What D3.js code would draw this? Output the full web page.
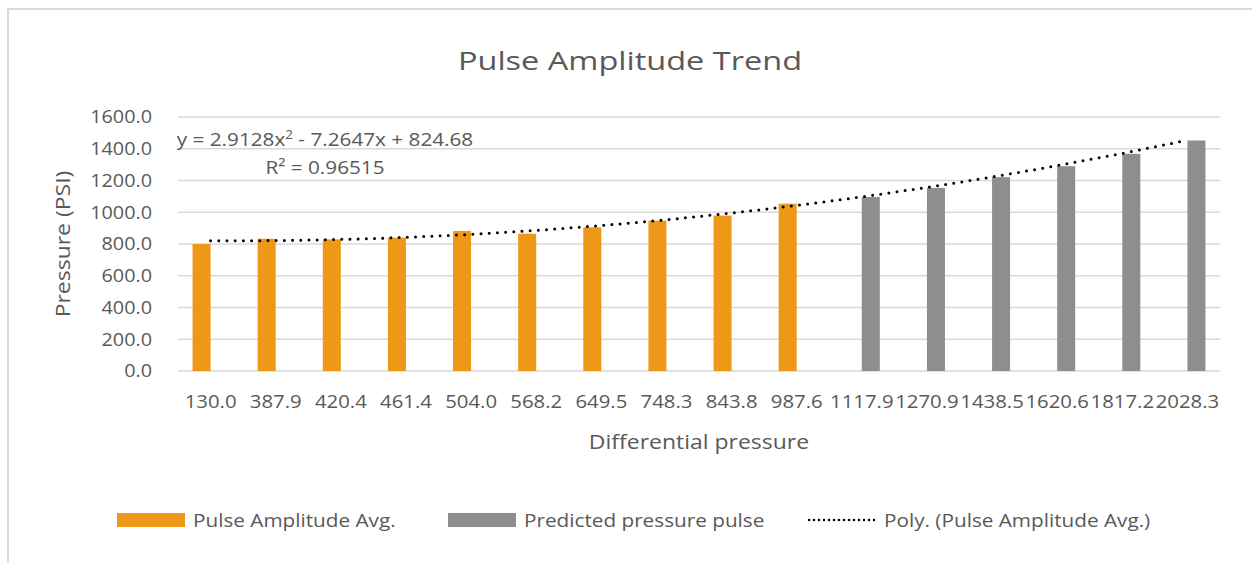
<!DOCTYPE html>
<html>
<head>
<meta charset="utf-8">
<script src="https://cdn.jsdelivr.net/npm/d3@7"></script>
<style>
  body { margin: 0; background: #fff; }
  svg { display: block; font-family: 'Open Sans', Lato, sans-serif; }
</style>
</head>
<body>
<div class="chart"></div>
<script>
// Pulse amplitude chart (Excel style clustered columns + poly trendline)
const categories = ['130.0', '387.9', '420.4', '461.4', '504.0', '568.2', '649.5', '748.3',
  '843.8', '987.6', '1117.9', '1270.9', '1438.5', '1620.6', '1817.2', '2028.3']

// measured series, null where the series has no column
const pulseAvg = [800, 833, 829, 840, 882, 865, 905, 947, 979, 1054,
  null, null, null, null, null, null]
const predicted = [null, null, null, null, null, null, null, null, null, null,
  1096, 1153, 1221, 1290, 1368, 1452]

// y = c2*x^2 + c1*x + c0 as printed on the chart
const trendCoef = [824.68, -7.2647, 2.9128]
const trendR2 = '0.96515'

const yTicks = [0, 200, 400, 600, 800, 1000, 1200, 1400, 1600]

const SERIES = [
  { key: 'avg', label: 'Pulse Amplitude Avg.', values: pulseAvg, color: '#ED9817' },
  { key: 'pred', label: 'Predicted pressure pulse', values: predicted, color: '#8E8E8E' },
]

const svgWidth = 1252
const svgHeight = 563
const margin = { top: 117, right: 32, bottom: 192, left: 178 }
const width = svgWidth - margin.left - margin.right
const height = svgHeight - margin.top - margin.bottom
const textColor = '#595959'
const fontSize = '18.5px'

// the reference text is a bit wide, stretch glyphs horizontally
function stretch(sel, k) {
  sel.each(function() {
    const len = this.getComputedTextLength()
    d3.select(this).attr('textLength', len * k).attr('lengthAdjust', 'spacingAndGlyphs')
  })
}

const svg = d3.select('.chart').append('svg')
  .attr('width', svgWidth)
  .attr('height', svgHeight)

// chart area border (runs off the picture right and bottom)
svg.append('rect')
  .attr('x', 8).attr('y', 9)
  .attr('width', svgWidth + 20).attr('height', svgHeight + 20)
  .attr('fill', 'none')
  .attr('stroke', '#D9D9D9')
  .attr('stroke-width', 2)

svg.append('text')
  .attr('x', 630)
  .attr('y', 70)
  .attr('text-anchor', 'middle')
  .attr('font-size', '25px')
  .attr('fill', textColor)
  .text('Pulse Amplitude Trend')
  .call(stretch, 1.3)

const chartGroup = svg.append('g')
  .attr('transform', `translate(${margin.left}, ${margin.top})`)

const xScale = d3.scaleBand()
  .domain(categories)
  .range([0, width])

const yScale = d3.scaleLinear()
  .domain([0, 1600])
  .range([height, 0])

const xSub = d3.scaleBand()
  .domain(SERIES.map(s => s.key))
  .range([xScale.bandwidth() * 0.2235, xScale.bandwidth() * 0.7765])

// gridlines
chartGroup.append('g')
  .selectAll('line')
  .data(yTicks)
  .enter()
  .append('line')
  .attr('x1', 0).attr('x2', width)
  .attr('y1', d => yScale(d)).attr('y2', d => yScale(d))
  .attr('stroke', '#D9D9D9')
  .attr('stroke-width', 1.3)

// y axis labels
const yAxis = chartGroup.append('g')
  .call(d3.axisLeft(yScale).tickValues(yTicks).tickFormat(d3.format('.1f')).tickSize(0).tickPadding(26))
yAxis.select('.domain').remove()
yAxis.selectAll('text')
  .attr('font-size', fontSize).attr('font-family', "'Open Sans', Lato, sans-serif").attr('fill', textColor)
  .call(stretch, 1.07)

// x axis labels
const xAxis = chartGroup.append('g')
  .attr('transform', `translate(0, ${height})`)
  .call(d3.axisBottom(xScale).tickSize(0).tickPadding(24))
xAxis.select('.domain').remove()
xAxis.selectAll('text')
  .attr('font-size', fontSize).attr('font-family', "'Open Sans', Lato, sans-serif").attr('fill', textColor)
  .call(stretch, 1.1)

// columns
SERIES.forEach(s => {
  chartGroup.append('g')
    .selectAll('rect')
    .data(categories.map((c, i) => ({ cat: c, value: s.values[i] })).filter(d => d.value != null))
    .enter()
    .append('rect')
    .attr('x', d => xScale(d.cat) + xSub(s.key))
    .attr('width', xSub.bandwidth())
    .attr('y', d => yScale(d.value))
    .attr('height', d => height - yScale(d.value))
    .attr('fill', s.color)
})

// polynomial trendline through every category position
const trendPoints = categories.map((c, i) => {
  const x = i + 1
  return { cat: c, value: trendCoef[0] + trendCoef[1] * x + trendCoef[2] * x * x }
})
const trendLine = d3.line()
  .x(d => xScale(d.cat) + xScale.bandwidth() / 2)
  .y(d => yScale(d.value))
  .curve(d3.curveNatural)

chartGroup.append('path')
  .datum(trendPoints)
  .attr('d', trendLine)
  .attr('fill', 'none')
  .attr('stroke', '#000')
  .attr('stroke-width', 3)
  .attr('stroke-linecap', 'round')
  .attr('stroke-dasharray', '0 8.2')

// trendline label
const eqText = svg.append('text')
  .attr('x', 325)
  .attr('y', 146)
  .attr('text-anchor', 'middle')
  .attr('font-size', fontSize)
  .attr('fill', textColor)
eqText.append('tspan').text(`y = ${trendCoef[2]}x`)
eqText.append('tspan').attr('dy', -7).attr('font-size', '12px').text('2')
eqText.append('tspan').attr('dy', 7).text(` - ${Math.abs(trendCoef[1])}x + ${trendCoef[0]}`)
eqText.call(stretch, 1.12)

svg.append('text')
  .attr('x', 325)
  .attr('y', 174)
  .attr('text-anchor', 'middle')
  .attr('font-size', fontSize)
  .attr('fill', textColor)
  .text(`R² = ${trendR2}`)
  .call(stretch, 1.12)

// axis titles
svg.append('text')
  .attr('transform', `translate(70, ${margin.top + height / 2}) rotate(-90)`)
  .attr('text-anchor', 'middle')
  .attr('font-size', '20.5px')
  .attr('fill', textColor)
  .text('Pressure (PSI)')
  .call(stretch, 1.12)

svg.append('text')
  .attr('x', margin.left + width / 2)
  .attr('y', 449)
  .attr('text-anchor', 'middle')
  .attr('font-size', '20.5px')
  .attr('fill', textColor)
  .text('Differential pressure')
  .call(stretch, 1.12)

// legend
const legend = svg.append('g').attr('transform', 'translate(0, 520)')
const legendItems = [
  { x: 117, label: SERIES[0].label, color: SERIES[0].color, type: 'rect' },
  { x: 448, label: SERIES[1].label, color: SERIES[1].color, type: 'rect' },
  { x: 808, label: 'Poly. (Pulse Amplitude Avg.)', color: '#000', type: 'line' },
]
legendItems.forEach(it => {
  const g = legend.append('g').attr('transform', `translate(${it.x}, 0)`)
  if (it.type === 'rect') {
    g.append('rect').attr('x', 0).attr('y', -7).attr('width', 68).attr('height', 14).attr('fill', it.color)
  } else {
    g.append('line').attr('x1', 1).attr('x2', 71).attr('y1', 0).attr('y2', 0)
      .attr('stroke', it.color).attr('stroke-width', 2.5)
      .attr('stroke-linecap', 'round').attr('stroke-dasharray', '0 5')
  }
  g.append('text').attr('x', 76).attr('y', 7)
    .attr('font-size', fontSize).attr('fill', textColor).text(it.label)
    .call(stretch, 1.12)
})
</script>
</body>
</html>
